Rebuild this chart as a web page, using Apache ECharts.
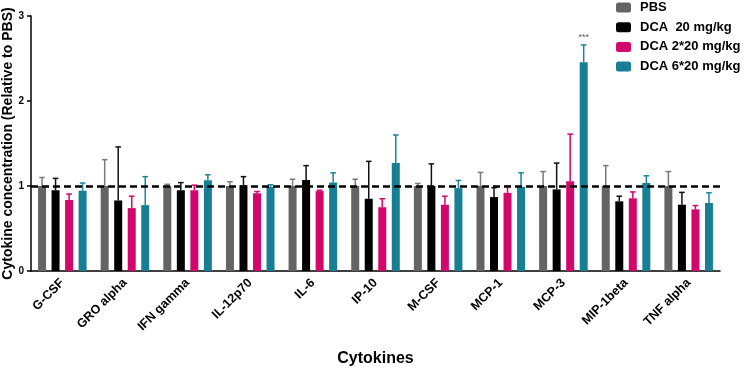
<!DOCTYPE html>
<html>
<head>
<meta charset="utf-8">
<script src="https://cdn.jsdelivr.net/npm/echarts@6/dist/echarts.min.js"></script>
<style>html,body{margin:0;padding:0;background:#fff}#c{width:747px;height:372px}</style>
</head>
<body>
<div id="c"></div>
<script>
const categories = ['G-CSF','GRO alpha','IFN gamma','IL-12p70','IL-6','IP-10','M-CSF','MCP-1','MCP-3','MIP-1beta','TNF alpha'];
const seriesNames = ['PBS','DCA  20 mg/kg','DCA 2*20 mg/kg','DCA 6*20 mg/kg'];
const pbsMean   = [1.00,1.00,1.00,1.00,1.00,1.00,1.00,1.00,1.00,1.00,1.00];
const pbsSD     = [0.10,0.31,0.02,0.05,0.08,0.08,0.03,0.16,0.17,0.24,0.17];
const dca1Mean  = [0.95,0.83,0.95,1.01,1.07,0.85,1.00,0.87,0.96,0.82,0.78];
const dca1SD    = [0.14,0.63,0.09,0.10,0.17,0.44,0.26,0.11,0.31,0.06,0.145];
const dca2Mean  = [0.835,0.74,0.95,0.915,0.94,0.75,0.78,0.92,1.055,0.855,0.725];
const dca2SD    = [0.07,0.14,0.06,0.02,0.01,0.10,0.10,0.08,0.555,0.075,0.045];
const dca6Mean  = [0.945,0.775,1.067,0.99,1.04,1.27,0.975,0.99,2.455,1.035,0.80];
const dca6SD    = [0.09,0.335,0.065,0.025,0.115,0.33,0.09,0.165,0.205,0.085,0.12];
const dca6Sig   = ['','','','','','','','','***','',''];
const yTicks = [0,1,2,3];
const referenceLine = 1;

const means = [pbsMean, dca1Mean, dca2Mean, dca6Mean];
const sds = [pbsSD, dca1SD, dca2SD, dca6SD];
const sigs = [null, null, null, dca6Sig];
const colors = ['#646464','#000000','#D3076B','#167F94'];
const errColors = ['#7a7a7a','#111111','#D3076B','#1a8499'];
const FONT = 'Arial, "Liberation Sans", sans-serif';
const BAR_W = 8, BAR_GAP = 0.69;
const step = BAR_W * (1 + BAR_GAP);

const series = [];
means.forEach((m, si) => {
  series.push({
    type: 'bar', name: seriesNames[si], data: m,
    barWidth: BAR_W, barGap: (BAR_GAP*100)+'%',
    itemStyle: { color: colors[si] }, z: 2
  });
});
means.forEach((m, si) => {
  const s = {
    type: 'custom', name: seriesNames[si], z: 3,
    encode: { x: 0, y: 1 },
    data: categories.map((c, i) => [i, m[i], sds[si][i]]),
    renderItem: (params, api) => {
      const cat = api.value(0), mean = api.value(1), sd = api.value(2);
      const base = api.coord([cat, mean]);
      const top = api.coord([cat, mean + sd]);
      const x = base[0] + (si - 1.5) * step;
      const st = { stroke: errColors[si], lineWidth: 1.5 };
      const children = [
        { type: 'line', shape: { x1: x, y1: base[1], x2: x, y2: top[1] }, style: st },
        { type: 'line', shape: { x1: x - 2.8, y1: top[1], x2: x + 2.8, y2: top[1] }, style: st }
      ];
      const sg = sigs[si] ? sigs[si][params.dataIndex] : '';
      if (sg) {
        children.push({ type: 'text', style: { text: sg, x: x, y: top[1] - 3, align: 'center', verticalAlign: 'bottom',
          fill: '#555', font: '9px ' + FONT } });
      }
      return { type: 'group', children };
    }
  };
  if (si === 3) {
    s.markLine = {
      silent: true, symbol: 'none', label: { show: false },
      lineStyle: { color: '#000', type: [7, 4], width: 2.5 },
      data: [{ yAxis: referenceLine }], z: 10
    };
  }
  series.push(s);
});

const chart = echarts.init(document.getElementById('c'), null, { renderer: 'canvas' });
chart.setOption({
  animation: false,
  backgroundColor: '#fff',
  textStyle: { fontFamily: FONT },
  legend: {
    data: seriesNames, orient: 'vertical', left: 616, top: 1, padding: 0,
    itemWidth: 15, itemHeight: 10, itemGap: 6.7,
    textStyle: { fontSize: 13, fontWeight: 'bold', color: '#000', fontFamily: FONT, padding: [0, 0, 0, 4] },
    selectedMode: false
  },
  grid: { left: 31, right: 27, top: 16, bottom: 101, containLabel: false, outerBoundsMode: 'none' },
  xAxis: {
    type: 'category', data: categories,
    axisLine: { lineStyle: { color: '#000', width: 1.5 } },
    axisTick: { alignWithLabel: true, length: 4, lineStyle: { color: '#000', width: 1.5 } },
    axisLabel: { rotate: 45, fontSize: 12.5, fontWeight: 'bold', color: '#000', margin: 10, interval: 0, fontFamily: FONT },
    name: 'Cytokines', nameLocation: 'middle', nameGap: 80, nameMoveOverlap: false,
    nameTextStyle: { fontSize: 16, fontWeight: 'bold', color: '#000', fontFamily: FONT }
  },
  yAxis: {
    type: 'value', min: yTicks[0], max: yTicks[yTicks.length-1], interval: 1,
    axisLine: { show: true, lineStyle: { color: '#000', width: 1.5 } },
    axisTick: { show: true, length: 4, lineStyle: { color: '#000', width: 1.5 } },
    axisLabel: { fontSize: 10, fontWeight: 'bold', color: '#000', margin: 7, fontFamily: FONT },
    splitLine: { show: false },
    name: 'Cytokine concentration (Relative to PBS)', nameLocation: 'middle', nameGap: 16, nameMoveOverlap: false,
    nameTextStyle: { fontSize: 14, fontWeight: 'bold', color: '#000', fontFamily: FONT }
  },
  series
});
</script>
</body>
</html>
